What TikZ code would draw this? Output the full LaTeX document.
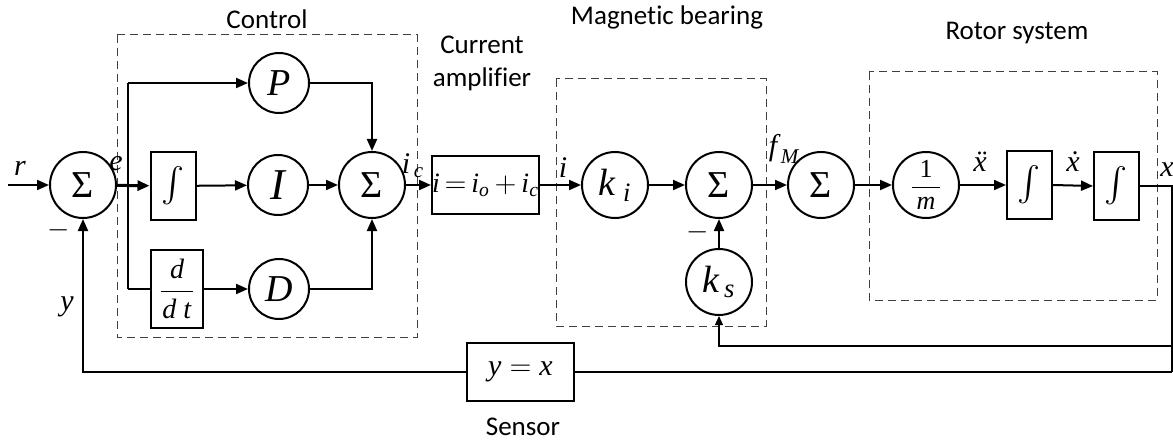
\documentclass[tikz,border=0pt]{standalone}
\usepackage{amsmath}
\usepackage{fontspec}
\setmainfont{Liberation Serif}
\setsansfont{Carlito}[Ligatures=NoCommon]
\usetikzlibrary{arrows.meta, positioning}
\tikzset{
    sumnode/.style={draw, circle, line width=1pt, minimum size=33pt, inner sep=0pt, font=\fontsize{19}{21}\selectfont},
    gainnode/.style={draw, circle, line width=1pt, minimum size=30pt, inner sep=0pt, font=\fontsize{19}{21}\selectfont\itshape},
    intbox/.style={draw, rectangle, line width=1pt, minimum width=22.5pt, minimum height=33.5pt, inner sep=0pt, font=\fontsize{18}{20}\selectfont},
    eqbox/.style={draw, rectangle, line width=1pt, minimum width=53.5pt, minimum height=29pt, inner sep=0pt, font=\fontsize{14}{16}\selectfont},
    groupbox/.style={draw=black!75, line width=0.5pt, dash pattern=on 4pt off 2.5pt},
    sigarrow/.style={-{Triangle[length=6pt, width=5pt]}, line width=1pt},
    sigline/.style={line width=1pt},
    thinline/.style={line width=0.6pt},
    thinarrow/.style={-{Triangle[length=4.5pt, width=4pt]}, line width=0.6pt},
    grouplabel/.style={font=\sffamily\fontsize{13.5}{16.5}\selectfont, align=center},
    siglabel/.style={font=\fontsize{15}{17}\selectfont, inner sep=0pt}
}
\begin{document}
\begin{tikzpicture}[x=0.5pt,y=-0.5pt]
    \useasboundingbox (0,0) rectangle (1173,444);
    % group frames
    \draw[groupbox] (117,35) rectangle (417,337);
    \draw[groupbox] (556,79) rectangle (766,326);
    \draw[groupbox] (869,72) rectangle (1157,300);
    \node[grouplabel] (lcontrol) at (267,19) {Control};
    \node[grouplabel] (lamp) at (482,63) {Current\\amplifier};
    \node[grouplabel] (lbearing) at (667,17) {Magnetic bearing};
    \node[grouplabel] (lrotor) at (1017,33) {Rotor system};
    \node[grouplabel] (lsensor) at (523,427) {Sensor};
    % controller
    \node[sumnode] (s1) at (83,185) {Σ};
    \node[gainnode] (p) at (279,83) {P};
    \node[intbox] (int1) at (173,186) {$\int$};
    \node[gainnode, font=\fontsize{22}{24}\selectfont\itshape] (i) at (278,185) {I};
    \node[intbox, minimum width=26pt, minimum height=39pt, font=\fontsize{14}{16}\selectfont] (ddt) at (177,289) {$\dfrac{\textit{d}}{\makebox[16pt]{\textit{d t}}}$};
    \node[gainnode] (d) at (279,289) {D};
    \node[sumnode] (s2) at (372,185) {Σ};
    % amplifier and bearing
    \node[eqbox] (amp) at (485.5,185) {$\textit{i}\,{=}\,\textit{i}_{\textit{o}}\,{+}\,\textit{i}_{\textit{c}}$};
    \node[sumnode] (ki) at (615,185) {$\textit{k}_{\;\textit{i}}$};
    \node[sumnode] (s3) at (719,185) {Σ};
    \node[sumnode] (ks) at (719,282) {$\textit{k}_{\,\textit{s}}$};
    \node[sumnode] (s4) at (821,185) {Σ};
    % rotor
    \node[sumnode, font=\fontsize{13}{15}\selectfont] (inv) at (926,185) {$\dfrac{\text{1}}{\makebox[14pt]{\textit{m}}}$};
    \node[intbox] (int2) at (1029.5,185) {$\int$};
    \node[intbox] (int3) at (1116.5,186) {$\int$};
    \node[eqbox, font=\fontsize{15}{17}\selectfont] (sensor) at (520.5,372) {$\textit{y} = \textit{x}$};
    % junctions
    \coordinate (rin) at (8,185);
    \coordinate (ptop) at (128,83);
    \coordinate (dbot) at (128,289);
    \coordinate (xout) at (1172,186);
    \coordinate (xdown) at (1172,372);
    \coordinate (ksfb) at (1172,346);
    % signals
    \draw[sigarrow] (rin) -- (s1);
    \draw[sigarrow, line width=1.5pt] (s1) -- (int1);
    \draw[sigline] (ptop) -- (dbot);
    \draw[sigarrow] (ptop) -- (p);
    \draw[sigline] (dbot) -- (ddt);
    \draw[sigarrow] (int1) -- (i);
    \draw[sigarrow] (ddt) -- (d);
    \draw[sigarrow] (i) -- (s2);
    \draw[sigarrow] (p.east) -| (s2.north);
    \draw[sigarrow] (d.east) -| (s2.south);
    \draw[sigarrow] (s2) -- (amp);
    \draw[sigarrow] (amp) -- (ki);
    \draw[sigarrow] (ki) -- (s3);
    \draw[sigarrow] (ks) -- (s3);
    \draw[sigarrow] (s3) -- (s4);
    \draw[sigarrow] (s4) -- (inv);
    \draw[sigarrow] (inv) -- (int2);
    \draw[sigarrow] (int2.east) -- (int3.west);
    \draw[thinline] (int3.east) -- (xout) -- (xdown);
    \draw[sigline] (xdown) -- (sensor.east);
    \draw[sigarrow] (sensor.west) -| (s1.south);
    \draw[thinarrow] (ksfb) -| (ks.south);
    % signal names
    \node[siglabel] (lr) at (20,168) {\textit{r}};
    \node[siglabel] (le) at (116,164) {\textit{e}};
    \node[siglabel] (lm1) at (59,230) {$-$};
    \node[siglabel] (ly) at (67,307) {\textit{y}};
    \node[siglabel] (lic) at (413,166) {$\textit{i}_{\,\textit{c}}$};
    \node[siglabel] (li) at (563,168) {\textit{i}};
    \node[siglabel] (lfm) at (784,149) {$\textit{f}_{\,\textit{M}}$};
    \node[siglabel] (lm2) at (698,232) {$-$};
    \node[siglabel] (lxdd) at (980,162) {\textit{\"x}};
    \node[siglabel] (lxd) at (1073,162) {\textit{\.x}};
    \node[siglabel] (lx) at (1167,170) {\textit{x}};
\end{tikzpicture}
\end{document}
